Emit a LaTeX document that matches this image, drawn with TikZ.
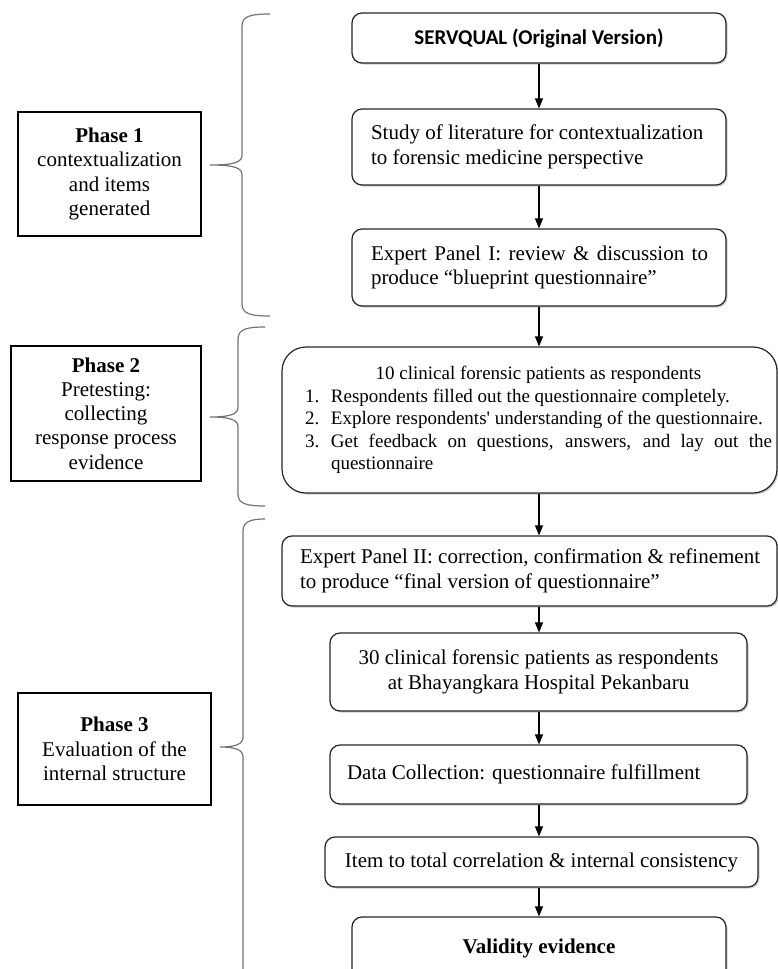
\documentclass[tikz,border=0pt]{standalone}
\usepackage{fontspec}
\setmainfont{Liberation Serif}
\newfontfamily\calibri{Carlito}
\usetikzlibrary{arrows.meta,shadows}
\newcommand\phbrace[6]{%
  \draw[brace] (#6,#1) .. controls (#3+9,#1) and (#3,#1+2) .. (#3,#1+12)
    -- (#3,#5-10) .. controls (#3,#5-3) and (#3-7,#5) .. (#4,#5)
    .. controls (#3-7,#5) and (#3,#5+3) .. (#3,#5+10)
    -- (#3,#2-12) .. controls (#3,#2-2) and (#3+9,#2) .. (#6,#2);}
\begin{document}
\begin{tikzpicture}[x=1pt,y=-1pt,
  flow/.style={draw=black!85, line width=1.2pt, rounded corners=10pt, fill=white, inner sep=0pt,
    drop shadow={shadow xshift=1.5pt, shadow yshift=-1.5pt, fill=black!40, opacity=0.5},
    font=\fontsize{21pt}{24.5pt}\selectfont},
  phase/.style={draw, line width=2.6pt, inner sep=0pt, align=center,
    font=\fontsize{21pt}{24.3pt}\selectfont},
  brace/.style={draw=black!55, line width=1.2pt},
  conn/.style={line width=1.1pt, -{Triangle[length=10pt,width=8pt]}}
]
\useasboundingbox (0,0) rectangle (778,969);
\fill[white] (0,0) rectangle (778,969);
\clip (0,0) rectangle (778,969);

% phase boxes
\node[phase, minimum width=183pt, minimum height=124pt] (p1) at (109.5,174)
  {\textbf{Phase 1}\\contextualization\\and items\\generated};
\node[phase, minimum width=190pt, minimum height=135pt] (p2) at (106,413.5)
  {\textbf{Phase 2}\\Pretesting:\\collecting\\response process\\evidence};
\node[phase, minimum width=193pt, minimum height=112pt] (p3) at (114.5,749)
  {\textbf{Phase 3}\\Evaluation of the\\internal structure};

% braces
\phbrace{14}{316}{242}{210}{165}{270}
\phbrace{327}{506}{238}{210}{417}{265}
\phbrace{519}{1010}{243}{220}{747}{265}

% flow boxes
\node[flow, minimum width=374pt, minimum height=50pt] (b1) at (539,38)
  {\calibri\bfseries\fontsize{21pt}{25pt}\selectfont SERVQUAL (Original Version)};
\node[flow, minimum width=374pt, minimum height=76pt] (b2) at (539,147)
  {\hspace*{19pt}\parbox{337pt}{\raggedright Study of literature for contextualization\\to forensic medicine perspective}\hspace*{18pt}};
\node[flow, minimum width=374pt, minimum height=77pt] (b3) at (539,267.5)
  {\hspace*{19pt}\parbox{337pt}{\makebox[337pt][s]{Expert Panel I: review \& discussion to}\\produce “blueprint questionnaire”}\hspace*{18pt}};
\node[flow, rounded corners=24pt, minimum width=495pt, minimum height=146pt] (b4) at (529.5,420)
  {\hspace*{23pt}\parbox{467pt}{\fontsize{19pt}{22.5pt}\selectfont
    \centering 10 clinical forensic patients as respondents\par
    \raggedright
    \makebox[26pt][l]{1.}Respondents filled out the questionnaire completely.\\
    \makebox[26pt][l]{2.}Explore respondents\textquotesingle\ understanding of the questionnaire.\\
    \makebox[26pt][l]{3.}\makebox[441pt][s]{Get feedback on questions, answers, and lay out the}\\
    \hspace*{26pt}questionnaire}\hspace*{5pt}};
\node[flow, minimum width=495pt, minimum height=70pt] (b5) at (529.5,571)
  {\hspace*{18pt}\parbox{470pt}{\raggedright Expert Panel II: correction, confirmation \& refinement\\to produce “final version of questionnaire”}\hspace*{7pt}};
\node[flow, align=center, minimum width=417pt, minimum height=78pt] (b6) at (538.5,672)
  {30 clinical forensic patients as respondents\\at Bhayangkara Hospital Pekanbaru};
\node[flow, minimum width=417pt, minimum height=59pt] (b7) at (538.5,774.5)
  {\makebox[417pt][l]{\hspace*{17pt}Data Collection: questionnaire fulfillment}};
\node[flow, minimum width=433pt, minimum height=50pt] (b8) at (541.5,862)
  {Item to total correlation \& internal consistency};
\node[flow, minimum width=374pt, minimum height=63pt] (b9) at (539,948.5)
  {\textbf{Validity evidence}};

% connectors
\draw[conn] (b1.south) -- (b2.north);
\draw[conn] (b2.south) -- (b3.north);
\draw[conn] (b3.south) -- (b3.south |- b4.north);
\draw[conn] (b3.south |- b4.south) -- (b3.south |- b5.north);
\draw[conn] (b3.south |- b5.south) -- (b3.south |- b6.north);
\draw[conn] (b3.south |- b6.south) -- (b3.south |- b7.north);
\draw[conn] (b3.south |- b7.south) -- (b3.south |- b8.north);
\draw[conn] (b3.south |- b8.south) -- (b3.south |- b9.north);
\end{tikzpicture}
\end{document}
